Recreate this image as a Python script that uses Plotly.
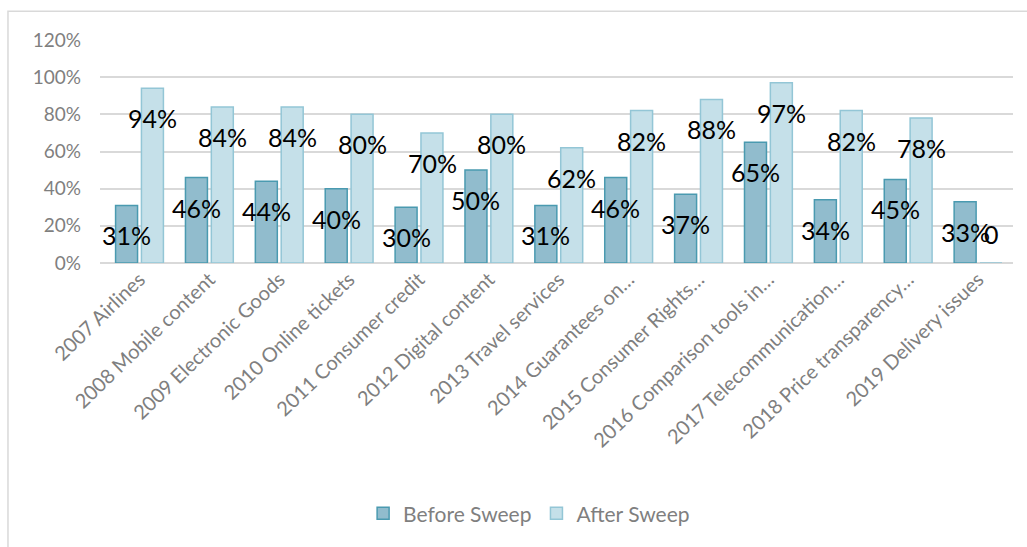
import plotly.graph_objects as go

categories = [
    "2007 Airlines", "2008 Mobile content", "2009 Electronic Goods",
    "2010 Online tickets", "2011 Consumer credit", "2012 Digital content",
    "2013 Travel services", "2014 Guarantees on…", "2015 Consumer Rights…",
    "2016 Comparison tools in…", "2017 Telecommunication…",
    "2018 Price transparency…", "2019 Delivery issues",
]
before_sweep = [31, 46, 44, 40, 30, 50, 31, 46, 37, 65, 34, 45, 33]
after_sweep = [94, 84, 84, 80, 70, 80, 62, 82, 88, 97, 82, 78, 0]

FONT = "Lato"
GREY = "#7f7f7f"

fig = go.Figure()
fig.add_trace(go.Bar(
    name="Before Sweep", x=categories, y=before_sweep,
    marker=dict(color="#91bccd", line=dict(color="#4a9ab0", width=1.5)),
))
fig.add_trace(go.Bar(
    name="After Sweep", x=categories, y=after_sweep,
    marker=dict(color="#c5e0e9", line=dict(color="#93c6d6", width=1.5)),
))


def label_text(v):
    return f"{v}%" if v else "0"


# data labels sit just below the top of each bar
annotations = []
for series, shift in ((before_sweep, -13), (after_sweep, 13)):
    for cat, v in zip(categories, series):
        annotations.append(dict(
            x=cat, y=v, xref="x", yref="y", text=label_text(v),
            showarrow=False, xshift=shift,
            yshift=-30 if v else 29,
            font=dict(family=FONT, size=25, color="black"),
        ))

fig.update_layout(
    width=1027, height=547,
    margin=dict(l=100, r=14, t=40, b=282),
    paper_bgcolor="white", plot_bgcolor="white",
    barmode="group", bargap=0.26, bargroupgap=0.15,
    font=dict(family=FONT, color=GREY),
    annotations=annotations,
    showlegend=True,
    legend=dict(
        orientation="h", x=0.47, xanchor="center", y=-1.124, yanchor="middle",
        font=dict(family=FONT, size=21, color=GREY),
        itemwidth=30, tracegroupgap=0,
    ),
    xaxis=dict(
        tickangle=-44, tickfont=dict(family=FONT, size=20, color=GREY),
        showline=False, showgrid=False, ticks="",
    ),
    yaxis=dict(
        range=[0, 120], dtick=20, ticksuffix="%",
        tickfont=dict(family=FONT, size=19, color=GREY),
        ticklabelstandoff=18,
        showgrid=True, gridcolor="#d9d9d9", gridwidth=1.5,
        zeroline=True, zerolinecolor="#d9d9d9", zerolinewidth=1.5,
        showline=False, ticks="",
    ),
    shapes=[dict(
        type="rect", xref="paper", yref="paper",
        x0=-0.1008, x1=1.05, y0=-1.3, y1=1.129,
        line=dict(color="#d9d9d9", width=1.5), fillcolor="rgba(0,0,0,0)",
        layer="below",
    )],
)

fig.write_html("out.html")
